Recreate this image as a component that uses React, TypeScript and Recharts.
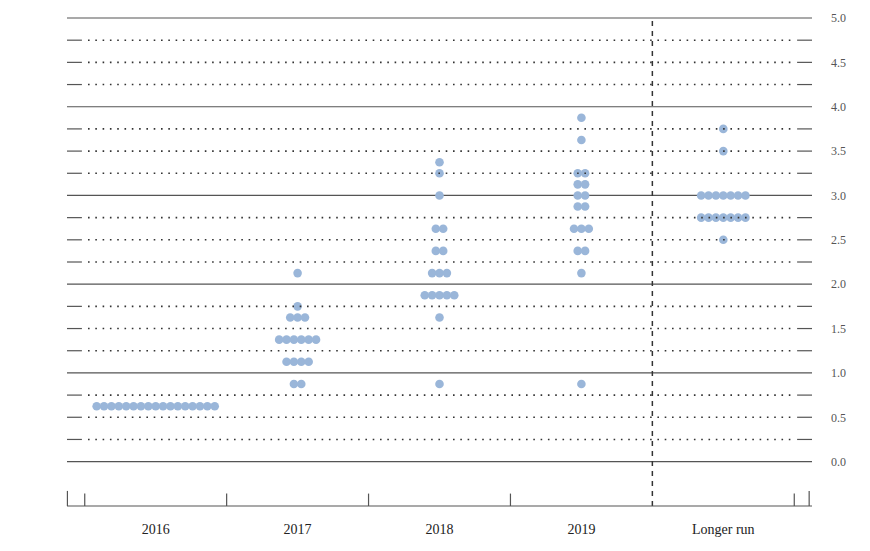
import React from "react";
import {
  ScatterChart,
  Scatter,
  XAxis,
  YAxis,
  CartesianGrid,
  ReferenceLine,
} from "recharts";

// participant projections: rate level and how many dots sit at it
type DotRow = { rate: number; count: number };

const categories = ["2016", "2017", "2018", "2019", "Longer run"];

const dots2016: DotRow[] = [{ rate: 0.625, count: 17 }];

const dots2017: DotRow[] = [
  { rate: 0.875, count: 2 },
  { rate: 1.125, count: 4 },
  { rate: 1.375, count: 6 },
  { rate: 1.625, count: 3 },
  { rate: 1.75, count: 1 },
  { rate: 2.125, count: 1 },
];

const dots2018: DotRow[] = [
  { rate: 0.875, count: 1 },
  { rate: 1.625, count: 1 },
  { rate: 1.875, count: 5 },
  { rate: 2.125, count: 3 },
  { rate: 2.375, count: 2 },
  { rate: 2.625, count: 2 },
  { rate: 3.0, count: 1 },
  { rate: 3.25, count: 1 },
  { rate: 3.375, count: 1 },
];

const dots2019: DotRow[] = [
  { rate: 0.875, count: 1 },
  { rate: 2.125, count: 1 },
  { rate: 2.375, count: 2 },
  { rate: 2.625, count: 3 },
  { rate: 2.875, count: 2 },
  { rate: 3.0, count: 2 },
  { rate: 3.125, count: 2 },
  { rate: 3.25, count: 2 },
  { rate: 3.625, count: 1 },
  { rate: 3.875, count: 1 },
];

const dotsLongerRun: DotRow[] = [
  { rate: 2.5, count: 1 },
  { rate: 2.75, count: 7 },
  { rate: 3.0, count: 7 },
  { rate: 3.5, count: 1 },
  { rate: 3.75, count: 1 },
];

const yTicks = [0, 0.5, 1, 1.5, 2, 2.5, 3, 3.5, 4, 4.5, 5];
const solidLevels = [0, 1, 2, 3, 4, 5];
const dottedLevels = [
  0.25, 0.5, 0.75, 1.25, 1.5, 1.75, 2.25, 2.5, 2.75, 3.25, 3.5, 3.75, 4.25,
  4.5, 4.75,
];
const bandEdges = [-0.5, 0.5, 1.5, 2.5, 4.5];

const X_MIN = -0.625;
const X_MAX = 4.625;
const Y_MIN = -0.5;
const Y_MAX = 5;
const DOT_STEP = 0.052; // horizontal spacing between dots in a row

const allRows = [dots2016, dots2017, dots2018, dots2019, dotsLongerRun];

const points = allRows.flatMap((rows, ci) =>
  rows.flatMap((r) =>
    Array.from({ length: r.count }, (_, j) => ({
      x: ci + (j - (r.count - 1) / 2) * DOT_STEP,
      y: r.rate,
    }))
  )
);

const DotShape = (props: any) => {
  const { cx, cy } = props;
  return <circle cx={cx} cy={cy} r={4.3} fill="#9ab6d9" />;
};

const serif = "'Liberation Serif', 'DejaVu Serif', serif";

export default function App() {
  return (
    <div style={{ position: "absolute", left: 0, top: 0 }}>
      <ScatterChart
        width={870}
        height={551}
        margin={{ top: 18, right: 0, left: 67, bottom: 0 }}
      >
        {/* solid lines at whole percents sit under the dots */}
        <CartesianGrid
          vertical={false}
          horizontalValues={solidLevels}
          stroke="#555"
          strokeWidth={1.2}
        />
        <XAxis
          type="number"
          dataKey="x"
          domain={[X_MIN, X_MAX]}
          ticks={[0, 1, 2, 3, 4]}
          tickFormatter={(v: number) => categories[Math.round(v)] ?? ""}
          allowDataOverflow
          height={45}
          tickLine={false}
          tickMargin={12}
          axisLine={{ stroke: "#555", strokeWidth: 1.2 }}
          tick={{ fill: "#222", fontSize: 14, fontFamily: serif }}
        />
        <YAxis
          type="number"
          dataKey="y"
          orientation="right"
          domain={[Y_MIN, Y_MAX]}
          ticks={yTicks}
          allowDataOverflow
          width={58}
          axisLine={false}
          tickLine={false}
          tickMargin={13}
          tickFormatter={(v: number) => v.toFixed(1)}
          tick={{ fill: "#555", fontSize: 12, fontFamily: serif, textAnchor: "start" }}
        />
        <Scatter
          data={points}
          shape={DotShape}
          isAnimationActive={false}
        />
        {/* dotted quarter-point lines run over the dots */}
        {dottedLevels.map((v) => (
          <ReferenceLine
            key={"d" + v}
            segment={[
              { x: -0.477, y: v },
              { x: 4.505, y: v },
            ]}
            stroke="#333"
            strokeWidth={1.6}
            strokeDasharray="1.6 5.7"
            {...({ zIndex: 700 } as any)}
          />
        ))}
        {dottedLevels.map((v) => (
          <ReferenceLine
            key={"l" + v}
            segment={[
              { x: X_MIN, y: v },
              { x: -0.52, y: v },
            ]}
            stroke="#555"
            strokeWidth={1.2}
          />
        ))}
        {dottedLevels.map((v) => (
          <ReferenceLine
            key={"r" + v}
            segment={[
              { x: 4.52, y: v },
              { x: X_MAX, y: v },
            ]}
            stroke="#555"
            strokeWidth={1.2}
          />
        ))}
        {bandEdges.map((e) => (
          <ReferenceLine
            key={"t" + e}
            segment={[
              { x: e, y: Y_MIN },
              { x: e, y: Y_MIN + 0.14 },
            ]}
            stroke="#555"
            strokeWidth={1.2}
          />
        ))}
        {[X_MIN + 0.003, X_MAX - 0.02].map((e) => (
          <ReferenceLine
            key={"f" + e}
            segment={[
              { x: e, y: Y_MIN },
              { x: e, y: Y_MIN + 0.17 },
            ]}
            stroke="#555"
            strokeWidth={1.2}
          />
        ))}
        <ReferenceLine
          x={3.5}
          stroke="#333"
          strokeWidth={1.5}
          strokeDasharray="5 5"
        />
      </ScatterChart>
    </div>
  );
}
